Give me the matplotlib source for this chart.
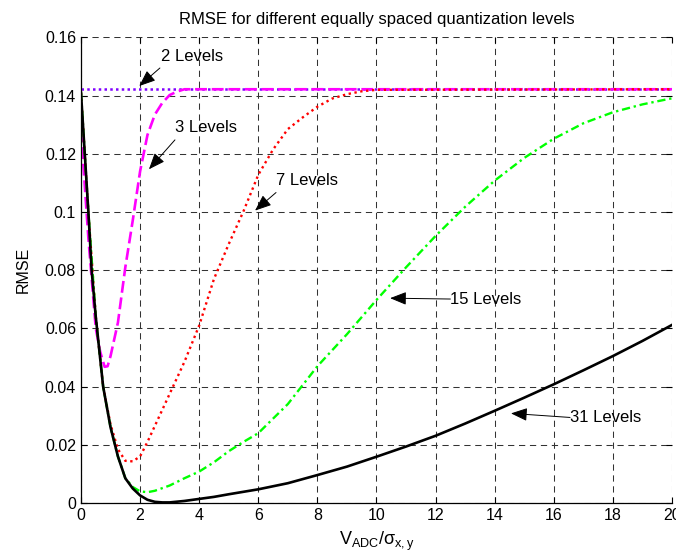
import numpy as np
import matplotlib
matplotlib.use('Agg')
import matplotlib.pyplot as plt

plt.rcParams['font.family'] = ['Liberation Sans', 'DejaVu Sans']
plt.rcParams['mathtext.fontset'] = 'custom'
plt.rcParams['mathtext.rm'] = 'Liberation Sans'
plt.rcParams['mathtext.it'] = 'Liberation Sans'

# 2 levels: flat
x_2 = [0, 20]
rmse_2 = [0.1422, 0.1422]

# 3 levels
x_3 = [0, 0.25, 0.5, 0.65, 0.8, 0.9, 1.0, 1.25, 1.5, 1.75, 2.0, 2.25, 2.5,
       2.75, 3.0, 3.25, 3.5, 20]
rmse_3 = [0.128, 0.091, 0.060, 0.052, 0.0468, 0.0470, 0.0505, 0.062, 0.081,
          0.097, 0.114, 0.1265, 0.1335, 0.1375, 0.1402, 0.1414, 0.1422, 0.1422]

# 7 levels
x_7 = [0, 0.25, 0.5, 0.75, 1.0, 1.25, 1.5, 1.75, 2.0, 2.25, 2.5, 2.75, 3.0,
       3.5, 4.0, 4.5, 5.0, 5.5, 6.0, 6.5, 7.0, 7.5, 8.0, 8.5, 9.0, 9.5,
       10.0, 20]
rmse_7 = [0.141, 0.100, 0.064, 0.040, 0.027, 0.0185, 0.0145, 0.0143, 0.0160,
          0.0210, 0.0265, 0.0320, 0.0375, 0.0485, 0.0610, 0.0770, 0.0890,
          0.1003, 0.1128, 0.1215, 0.1285, 0.1325, 0.1362, 0.1390, 0.1405,
          0.1415, 0.1420, 0.1422]

# 15 levels
x_15 = [0, 0.25, 0.5, 0.75, 1.0, 1.25, 1.5, 1.75, 2.0, 2.25, 2.5, 3.0, 3.5,
        4.0, 4.5, 5.0, 5.5, 6.0, 7.0, 8.0, 9.0, 10.0, 11.0, 12.0, 13.0,
        14.0, 15.0, 16.0, 17.0, 18.0, 19.0, 20.0]
rmse_15 = [0.141, 0.100, 0.064, 0.040, 0.026, 0.016, 0.0085, 0.0055, 0.0040,
           0.0037, 0.0042, 0.0060, 0.0085, 0.0108, 0.0140, 0.0178, 0.0210,
           0.0240, 0.0340, 0.0470, 0.0580, 0.0698, 0.0810, 0.0918, 0.1018,
           0.1108, 0.1186, 0.1252, 0.1305, 0.1343, 0.1370, 0.1391]

# 31 levels
x_31 = [0, 0.25, 0.36, 0.5, 0.75, 1.0, 1.25, 1.5, 1.75, 2.0, 2.25, 2.5, 2.75,
        3.0, 3.5, 4.0, 4.5, 5.0, 6.0, 7.0, 8.0, 9.0, 10.0, 11.0, 12.0, 13.0,
        14.0, 15.0, 16.0, 17.0, 18.0, 19.0, 20.0]
rmse_31 = [0.141, 0.100, 0.080, 0.064, 0.040, 0.026, 0.016, 0.0085, 0.0050,
           0.0026, 0.0011, 0.0004, 0.0002, 0.0002, 0.0007, 0.0014, 0.0021,
           0.0030, 0.0047, 0.0068, 0.0096, 0.0125, 0.0159, 0.0194, 0.0231,
           0.0273, 0.0317, 0.0362, 0.0408, 0.0456, 0.0505, 0.0557, 0.0612]

labels = ['2 Levels', '3 Levels', '7 Levels', '15 Levels', '31 Levels']
arrow_tips = [(1.97, 0.1433), (2.30, 0.1147), (5.89, 0.1005),
              (10.46, 0.0704), (14.55, 0.0308)]
text_pos = [(2.72, 0.1534), (3.18, 0.1289), (6.60, 0.1107),
            (12.50, 0.0701), (16.55, 0.0294)]
arrow_tails = [(2.67, 0.1495), (3.18, 0.1248), (6.60, 0.1067),
               (12.50, 0.0701), (16.55, 0.0294)]

fig = plt.figure(figsize=(6.76, 5.6), dpi=100)
ax = fig.add_axes([0.1198, 0.1018, 0.8743, 0.8313])

ax.plot(x_2, rmse_2, color='#8000ff', lw=1.8, linestyle=(0, (1, 1.3)))
ax.plot(x_3, rmse_3, color='#ff00ff', lw=1.9, linestyle=(0, (4.5, 1.8)))
ax.plot(x_7, rmse_7, color='#ff0000', lw=1.7, linestyle=(0, (1, 1.5)))
ax.plot(x_15, rmse_15, color='#00ff00', lw=1.7, linestyle=(0, (3.5, 1.6, 1, 1.6)))
ax.plot(x_31, rmse_31, color='black', lw=1.9)

ax.set_xlim(0, 20)
ax.set_ylim(0, 0.16)
ax.set_xticks(np.arange(0, 21, 2))
ax.set_yticks(np.arange(0, 0.161, 0.02))
ax.set_yticklabels(['0', '0.02', '0.04', '0.06', '0.08', '0.1', '0.12', '0.14', '0.16'])
ax.grid(True, color='#333333', lw=0.75, linestyle=(0, (6, 4.5)))
ax.set_axisbelow(True)
ax.spines['top'].set_visible(False)
ax.spines['right'].set_visible(False)
ax.spines['left'].set_linewidth(0.9)
ax.spines['bottom'].set_linewidth(0.9)
ax.tick_params(direction='in', top=True, right=True, length=4, labelsize=11.5)

ax.set_title('RMSE for different equally spaced quantization levels',
             fontsize=12, pad=10)
ax.set_ylabel('RMSE', fontsize=11.5, labelpad=10)
ax.set_xlabel(r'$\mathregular{V_{ADC}/\sigma_{x,y}}$', fontsize=13, labelpad=5)

for lab, tip, tail, tp in zip(labels, arrow_tips, arrow_tails, text_pos):
    ax.annotate('', xy=tip, xytext=tail,
                arrowprops=dict(arrowstyle='-|>,head_length=1.0,head_width=0.4',
                                color='black', lw=0.7, shrinkA=0, shrinkB=0))
    ax.text(tp[0], tp[1], lab, fontsize=12, ha='left', va='center')

fig.savefig('out.png', dpi=100)
